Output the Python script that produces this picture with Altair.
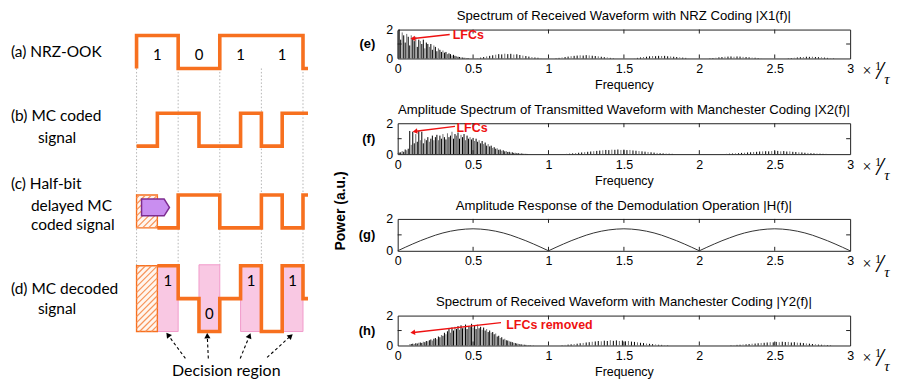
import math
import altair as alt
import numpy as np
import pandas as pd

# ====================== DATA ======================
# ---- left schematic ----
BITS = [1, 0, 1, 1]
NRZ_BIT_TEXT = ["1", "0", "1", "1"]
ROW_LABELS = ["(a) NRZ-OOK", "(b) MC coded", "signal", "(c) Half-bit", "delayed MC",
              "coded signal", "(d) MC decoded", "signal"]
DECISION_TEXT = "Decision region"
POWER_TEXT = "Power (a.u.)"

# ---- spectra ----
X_TICKS = [0, 0.5, 1, 1.5, 2, 2.5, 3]
Y_TICKS = [0, 1, 2]
TITLES = ["Spectrum of Received Waveform with NRZ Coding |X1(f)|",
          "Amplitude Spectrum of Transmitted Waveform with Manchester Coding |X2(f)|",
          "Amplitude Response of the Demodulation Operation |H(f)|",
          "Spectrum of Received Waveform with Manchester Coding |Y2(f)|"]
TAGS = ["(e)", "(f)", "(g)", "(h)"]

# |X1(f)| main lobe, f = 0.00, 0.01, ...
E_MAIN = [1.9, 2.0, 1.3, 1.8, 1.6, 1.1, 1.7, 1.5, 0.9, 1.6, 1.4, 1.2, 1.5, 0.8, 1.3, 1.2,
          1.0, 1.3, 0.7, 1.1, 1.0, 0.8, 1.0, 0.6, 0.9, 0.8, 0.5, 0.7, 0.6, 0.45, 0.55, 0.4,
          0.45, 0.3, 0.35, 0.3, 0.2, 0.25, 0.18, 0.15, 0.12, 0.1, 0.08, 0.06, 0.05, 0.04, 0.03, 0.02]
# side lobes, step 0.02 from the given start
E_LOBE2 = (0.53, [0.03, 0.06, 0.1, 0.14, 0.18, 0.22, 0.26, 0.3, 0.28, 0.33, 0.3, 0.32, 0.27, 0.29,
                  0.24, 0.2, 0.17, 0.13, 0.1, 0.07, 0.05, 0.03])
E_LOBE3 = (1.05, [0.02, 0.04, 0.07, 0.1, 0.13, 0.16, 0.18, 0.2, 0.22, 0.2, 0.23, 0.21, 0.19, 0.17,
                  0.15, 0.12, 0.09, 0.07, 0.04, 0.02])
E_LOBE4 = (1.57, [0.02, 0.04, 0.07, 0.1, 0.12, 0.15, 0.17, 0.16, 0.18, 0.17, 0.18, 0.15, 0.14, 0.12,
                  0.1, 0.08, 0.06, 0.04, 0.02])
E_LOBE5 = (2.07, [0.02, 0.03, 0.05, 0.08, 0.1, 0.12, 0.13, 0.14, 0.12, 0.14, 0.13, 0.11, 0.1, 0.08,
                  0.06, 0.05, 0.03, 0.02])
E_LOBE6 = (2.59, [0.02, 0.03, 0.05, 0.07, 0.09, 0.1, 0.12, 0.11, 0.12, 0.1, 0.09, 0.08, 0.06, 0.04,
                  0.03, 0.02])

# |X2(f)| main lobe, f = 0.00, 0.01, ...
F_MAIN = [0.05, 0.1, 0.12, 0.2, 0.15, 0.3, 0.25, 0.35,
          1.5, 0.6, 1.45, 0.7, 1.3, 0.8, 1.5, 0.9, 1.45, 0.7, 1.0, 0.9, 1.1, 0.8, 1.0, 1.2,
          0.9, 1.1, 1.25, 0.9, 1.2, 1.0, 1.3, 1.1, 0.95, 1.35, 1.1, 1.2, 1.45, 1.0, 1.3, 1.2,
          1.4, 1.0, 1.25, 1.1, 1.3, 0.9, 1.2, 1.0, 1.1, 0.95, 1.05, 0.85, 1.0, 0.8, 0.9, 0.7,
          0.85, 0.65, 0.75, 0.55, 0.65, 0.5, 0.55, 0.4, 0.45, 0.35, 0.38, 0.28, 0.3, 0.22, 0.25,
          0.18, 0.2, 0.14, 0.15, 0.1, 0.12, 0.08, 0.09, 0.06, 0.06, 0.04, 0.04, 0.03, 0.02, 0.02, 0.01]
F_LOBE2 = (1.12, [0.02, 0.03, 0.05, 0.07, 0.09, 0.11, 0.13, 0.15, 0.17, 0.19, 0.21, 0.23, 0.25, 0.27,
                  0.26, 0.29, 0.28, 0.3, 0.27, 0.29, 0.26, 0.27, 0.24, 0.22, 0.2, 0.18, 0.16, 0.14,
                  0.12, 0.1, 0.08, 0.06, 0.05, 0.04, 0.03, 0.02])
F_LOBE3 = (2.18, [0.02, 0.03, 0.04, 0.05, 0.06, 0.08, 0.09, 0.11, 0.12, 0.14, 0.15, 0.17, 0.18, 0.19,
                  0.18, 0.2, 0.19, 0.21, 0.18, 0.2, 0.17, 0.18, 0.15, 0.14, 0.12, 0.11, 0.09, 0.08,
                  0.06, 0.05, 0.04, 0.03, 0.02, 0.02])

# |H(f)|, f = 0.00, 0.05, ... 3.00
H_CURVE = [0, 0.22, 0.43, 0.63, 0.81, 0.98, 1.12, 1.23, 1.31, 1.36, 1.38, 1.36, 1.31, 1.23, 1.12,
           0.98, 0.81, 0.63, 0.43, 0.22, 0, 0.22, 0.43, 0.63, 0.81, 0.98, 1.12, 1.23, 1.31, 1.36,
           1.38, 1.36, 1.31, 1.23, 1.12, 0.98, 0.81, 0.63, 0.43, 0.22, 0, 0.22, 0.43, 0.63, 0.81,
           0.98, 1.12, 1.23, 1.31, 1.36, 1.38, 1.36, 1.31, 1.23, 1.12, 0.98, 0.81, 0.63, 0.43,
           0.22, 0]

# |Y2(f)| main lobe, f = 0.08, 0.09, ...
Y_MAIN = [0.08, 0.1, 0.12, 0.1, 0.15, 0.13, 0.18, 0.2, 0.17, 0.25, 0.22, 0.3, 0.28, 0.35, 0.4,
          0.33, 0.45, 0.5, 0.42, 0.6, 0.55, 0.7, 0.65, 0.85, 0.75, 0.95, 1.1, 0.85, 1.2, 1.0,
          1.25, 1.1, 1.3, 1.05, 1.35, 1.15, 1.2, 1.4, 1.1, 1.3, 1.25, 1.45, 1.2, 1.35, 1.1, 1.4,
          1.15, 1.25, 1.05, 1.2, 1.0, 1.1, 0.9, 1.0, 0.85, 0.9, 0.75, 0.8, 0.6, 0.65, 0.5, 0.55,
          0.4, 0.45, 0.35, 0.33, 0.28, 0.25, 0.22, 0.18, 0.16, 0.13, 0.11, 0.09, 0.07, 0.06, 0.05,
          0.04, 0.03, 0.02, 0.02, 0.01, 0.01]
Y_LOBE2 = (1.09, [0.02, 0.04, 0.06, 0.08, 0.1, 0.12, 0.15, 0.17, 0.2, 0.22, 0.25, 0.27, 0.3, 0.28,
                  0.32, 0.3, 0.35, 0.31, 0.34, 0.3, 0.33, 0.28, 0.3, 0.26, 0.24, 0.21, 0.18, 0.16,
                  0.13, 0.11, 0.09, 0.07, 0.05, 0.04, 0.03, 0.02])
Y_LOBE3 = (2.21, [0.02, 0.03, 0.04, 0.05, 0.07, 0.08, 0.1, 0.12, 0.13, 0.15, 0.17, 0.18, 0.2, 0.22,
                  0.21, 0.24, 0.22, 0.25, 0.23, 0.24, 0.2, 0.22, 0.19, 0.18, 0.16, 0.14, 0.12, 0.1,
                  0.08, 0.06, 0.05, 0.04, 0.03, 0.02])

# ====================== STYLE / LAYOUT ======================
ORANGE = "#f7701f"
FONT = "Liberation Sans"
LFONT = "Lato"
RED = "#ee1111"

LEFT_W, LEFT_H = 338, 351
BOTTOM_PAGE = 379.0
BIT_PX, LEVEL_PX, T0_PAGE = 41.75, 33.0, 136.0


def xu(px):
    return (px - T0_PAGE) / BIT_PX


def yu(py):
    return (BOTTOM_PAGE - py) / LEVEL_PX


LANE = {"a": yu(67), "b": yu(145), "c": yu(227), "d": yu(298)}
TAIL = 0.12

xs_left = alt.Scale(domain=[xu(8), xu(8 + LEFT_W)], nice=False, zero=False)
ys_left = alt.Scale(domain=[0, LEFT_H / LEVEL_PX], nice=False, zero=False)


def LX(f="x"):
    return alt.X(f"{f}:Q", scale=xs_left, axis=None)


def LY(f="y"):
    return alt.Y(f"{f}:Q", scale=ys_left, axis=None)


def tri_angle(dx_px, dy_px):
    return (math.degrees(math.atan2(dx_px, -dy_px)) + 360) % 360


# ---- waveforms derived from the bits ----
mc = []
for b in BITS:
    mc += [1 - b, b]
nb = len(BITS)
segs = {
    "a": [(0, 0, 0)] + [(i, i + 1, b) for i, b in enumerate(BITS)] + [(nb, nb + TAIL, 0)],
    "b": [(k * 0.5, (k + 1) * 0.5, v) for k, v in enumerate(mc)] + [(nb, nb + TAIL, mc[-1])],
    "c": [((k + 1) * 0.5, (k + 2) * 0.5, mc[k]) for k in range(len(mc) - 1)] + [(nb, nb + TAIL, mc[-1])],
    "d": [(j * 0.5, (j + 1) * 0.5, mc[j] - mc[j - 1]) for j in range(1, len(mc))] + [(nb, nb + TAIL, 0)],
}
rows = []
for lane, sl in segs.items():
    i = 0
    for x0, x1, lv in sl:
        for xx in (x0, x1):
            rows.append({"lane": lane, "i": i, "x": xx, "y": LANE[lane] + lv})
            i += 1
wave_df = pd.DataFrame(rows)

wave = alt.Chart(wave_df).mark_line(color=ORANGE, strokeWidth=3.6, strokeJoin="miter").encode(
    x=LX(), y=LY(), detail="lane:N", order="i:Q")

guides_df = pd.DataFrame({"x": list(range(nb + 1)), "y": LANE["a"], "y2": LANE["d"] + 1})
guides = alt.Chart(guides_df).mark_rule(color="#b5b5b5", strokeDash=[1.5, 2], strokeWidth=1).encode(
    x=LX(), y=LY(), y2="y2:Q")

# decision regions: second half of each bit in the decoded row
dec_vals = [mc[j] - mc[j - 1] for j in range(1, len(mc), 2)]
dec_df = pd.DataFrame({"x": [i + 0.5 for i in range(nb)], "x2": [i + 1.0 for i in range(nb)],
                       "y": LANE["d"] - 1, "y2": LANE["d"] + 1.03,
                       "lab": ["1" if v > 0 else "0" for v in dec_vals],
                       "ly": [LANE["d"] + (0.55 if v > 0 else -0.48) for v in dec_vals],
                       "lx": [i + 0.75 for i in range(nb)]})
pink = alt.Chart(dec_df).mark_rect(fill="#f9c8e3", stroke="#f19ccb", strokeWidth=1).encode(
    x=LX(), x2="x2:Q", y=LY(), y2="y2:Q")
dec_lab = alt.Chart(dec_df).mark_text(font=LFONT, fontSize=15, color="black").encode(
    x=LX("lx"), y=LY("ly"), text="lab:N")

# hatched half-bit boxes
boxes = pd.DataFrame({"x": [0, 0], "x2": [0.5, 0.5],
                      "y": [LANE["c"], LANE["d"] - 1], "y2": [LANE["c"] + 1, LANE["d"] + 1]})
box_m = alt.Chart(boxes).mark_rect(fill="#fff6ef", stroke=ORANGE, strokeWidth=1.4).encode(
    x=LX(), x2="x2:Q", y=LY(), y2="y2:Q")
hrows = []
for _, r in boxes.iterrows():
    x0p, x1p = r.x * BIT_PX, r.x2 * BIT_PX
    y0p, y1p = -r.y2 * LEVEL_PX, -r.y * LEVEL_PX  # screen-like (down positive)
    c = x0p + y0p + 3
    while c < x1p + y1p:
        xa, xb = max(x0p, c - y1p), min(x1p, c - y0p)
        if xb > xa:
            hrows.append({"x": xa / BIT_PX, "y": -(c - xa) / LEVEL_PX,
                          "x2": xb / BIT_PX, "y2": -(c - xb) / LEVEL_PX})
        c += 6
hatch = alt.Chart(pd.DataFrame(hrows)).mark_rule(color="#f7945a", strokeWidth=1.2).encode(
    x=LX(), y=LY(), x2="x2:Q", y2="y2:Q")

arrow_shape = "M-1,-0.6L0.62,-0.6L1,0L0.62,0.6L-1,0.6Z"
purple = alt.Chart(pd.DataFrame({"x": [xu(155)], "y": [yu(206.5)]})).mark_point(
    shape=arrow_shape, size=784, filled=True, fill="#c98ef0", stroke="#7d2c91",
    strokeWidth=1.5, opacity=1).encode(x=LX(), y=LY())

lab_pos = [(10, 51), (10, 115), (37, 137), (10, 183), (30, 205), (30, 224), (10, 288), (37, 308)]
labels_df = pd.DataFrame({"t": ROW_LABELS, "x": [xu(p[0]) for p in lab_pos],
                          "y": [yu(p[1]) for p in lab_pos]})
row_labels = alt.Chart(labels_df).mark_text(font=LFONT, fontSize=15.5, align="left",
                                            baseline="middle", color="black").encode(
    x=LX(), y=LY(), text="t:N")

bits_df = pd.DataFrame({"t": NRZ_BIT_TEXT, "x": [i + 0.5 for i in range(nb)], "y": LANE["a"] + 0.42})
bit_labels = alt.Chart(bits_df).mark_text(font=LFONT, fontSize=15, color="black").encode(
    x=LX(), y=LY(), text="t:N")

dtext = alt.Chart(pd.DataFrame({"t": [DECISION_TEXT], "x": [xu(226)], "y": [yu(371)]})).mark_text(
    font=LFONT, fontSize=16, color="black").encode(x=LX(), y=LY(), text="t:N")

arr_tail = [(185, 358), (208, 358), (240, 358), (267, 357)]
arr_head = [(168, 335), (207, 336), (249, 336), (290, 336)]
darr = pd.DataFrame({"x": [xu(a[0]) for a in arr_tail], "y": [yu(a[1]) for a in arr_tail],
                     "x2": [xu(a[0]) for a in arr_head], "y2": [yu(a[1]) for a in arr_head],
                     "ang": [tri_angle(h[0] - t[0], h[1] - t[1]) for t, h in zip(arr_tail, arr_head)]})
darr_lines = alt.Chart(darr).mark_rule(color="black", strokeWidth=1.1, strokeDash=[3, 2.5]).encode(
    x=LX(), y=LY(), x2="x2:Q", y2="y2:Q")
darr_heads = alt.Chart(darr).mark_point(shape="triangle", filled=True, color="black", size=38,
                                        opacity=1).encode(
    x=LX("x2"), y=LY("y2"), angle=alt.Angle("ang:Q", scale=None))

power = alt.Chart(pd.DataFrame({"t": [POWER_TEXT], "x": [xu(341)], "y": [yu(210)]})).mark_text(
    font=FONT, fontSize=14, fontWeight="bold", angle=270, color="black").encode(
    x=LX(), y=LY(), text="t:N")

left = alt.layer(guides, pink, box_m, hatch, wave, purple, row_labels, bit_labels, dec_lab,
                 dtext, darr_lines, darr_heads, power).properties(
    width=LEFT_W, height=LEFT_H, view=alt.ViewBackground(stroke="transparent"))

# ====================== RIGHT PANELS ======================
RIGHT_W = 454


def stems(main_start, main, lobes):
    f, a = [], []
    f += [round(main_start + 0.01 * k, 4) for k in range(len(main))]
    a += main
    for st, vals in lobes:
        f += [round(st + 0.02 * k, 4) for k in range(len(vals))]
        a += vals
    df = pd.DataFrame({"f": f, "a": a})
    df["a2"] = 0.0
    df["c"] = ["#000000" if k % 3 else "#6e6e6e" for k in range(len(df))]
    return df


def panel(tag, title, h, stem_df=None, curve=None, note=None, show_freq=True):
    xax = alt.Axis(values=X_TICKS, format="~g", ticks=False, domain=False, grid=False,
                   labelFlush=False, labelOverlap=False, labelFontSize=12.5, labelPadding=4,
                   labelFont=FONT, labelColor="black", title="Frequency", titleFont=FONT,
                   titleFontSize=12.5, titleFontWeight="normal", titlePadding=4,
                   titleColor="black", titleOpacity=1 if show_freq else 0)
    yax = alt.Axis(values=Y_TICKS, format="d", ticks=False, domain=False, grid=False,
                   labelOverlap=False, labelFontSize=12.5, labelPadding=5, labelFont=FONT,
                   labelColor="black", title=tag, titleAngle=0, titleFont=FONT, titleFontSize=13,
                   titleFontWeight="bold", titleAlign="right", titleBaseline="middle",
                   titleX=-23, titleY=h / 2, titleColor="black")
    X = alt.X("f:Q", scale=alt.Scale(domain=[0, 3], nice=False, zero=False), axis=xax)
    Y = alt.Y("a:Q", scale=alt.Scale(domain=[0, 2], nice=False, zero=False), axis=yax)
    pxu = RIGHT_W / 3.0
    pyu = h / 2.0
    layers = []
    if stem_df is not None:
        layers.append(alt.Chart(stem_df).mark_rule(strokeWidth=1.0).encode(
            x=X, y=Y, y2="a2:Q", color=alt.Color("c:N", scale=None)))
    if curve is not None:
        cdf = pd.DataFrame({"f": [round(0.05 * k, 3) for k in range(len(curve))], "a": curve})
        layers.append(alt.Chart(cdf).mark_line(color="#333333", strokeWidth=1).encode(x=X, y=Y))
    # inward ticks (box style)
    tl = 4.0
    trows = []
    for t in X_TICKS[1:-1]:
        trows.append({"f": t, "a": 0, "f2": t, "a2": tl / pyu})
        trows.append({"f": t, "a": 2, "f2": t, "a2": 2 - tl / pyu})
    trows.append({"f": 0, "a": 1, "f2": tl / pxu, "a2": 1})
    trows.append({"f": 3, "a": 1, "f2": 3 - tl / pxu, "a2": 1})
    layers.append(alt.Chart(pd.DataFrame(trows)).mark_rule(color="#222222", strokeWidth=1).encode(
        x=X, y=Y, x2="f2:Q", y2="a2:Q"))
    if note is not None:
        txt, tx, ty, f0, a0, f1, a1 = note
        ndf = pd.DataFrame({"f": [f0], "a": [a0], "f2": [f1], "a2": [a1]})
        layers.append(alt.Chart(ndf).mark_rule(color=RED, strokeWidth=1.4).encode(
            x=X, y=Y, x2="f2:Q", y2="a2:Q"))
        ang = tri_angle((f1 - f0) * pxu, -(a1 - a0) * pyu)
        hdf = pd.DataFrame({"f": [f1], "a": [a1], "ang": [ang]})
        layers.append(alt.Chart(hdf).mark_point(shape="triangle", filled=True, color=RED, size=30,
                                                opacity=1).encode(
            x=X, y=Y, angle=alt.Angle("ang:Q", scale=None)))
        tdf = pd.DataFrame({"f": [tx], "a": [ty], "t": [txt]})
        layers.append(alt.Chart(tdf).mark_text(font=FONT, fontSize=12.5, fontWeight="bold",
                                               color=RED, align="left", baseline="middle").encode(
            x=X, y=Y, text="t:N"))
    # "x 1/tau" unit next to the last tick label
    parts = [("\u00d7", 17, 13, 16, "normal"), ("1", 28, 8, 12.5, "normal"),
             ("/", 30, 13, 26, "italic"), ("\u03c4", 37, 21, 15, "italic")]
    for t, dx, dy, sz, st in parts:
        pdf = pd.DataFrame({"f": [3 + dx / pxu], "a": [-dy / pyu], "t": [t]})
        layers.append(alt.Chart(pdf).mark_text(font="Liberation Serif", fontSize=sz, fontStyle=st,
                                               color="black", baseline="middle").encode(
            x=X, y=Y, text="t:N"))
    return alt.layer(*layers).properties(
        width=RIGHT_W, height=h,
        title=alt.TitleParams(title, font=FONT, fontSize=13.2, fontWeight="normal", frame="group",
                              offset=0, color="black", anchor="middle"))


pe = panel(TAGS[0], TITLES[0], 29,
           stem_df=stems(0.0, E_MAIN, [E_LOBE2, E_LOBE3, E_LOBE4, E_LOBE5, E_LOBE6]),
           note=("LFCs", 0.365, 1.6, 0.345, 1.66, 0.105, 1.38))
pf = panel(TAGS[1], TITLES[1], 31, stem_df=stems(0.0, F_MAIN, [F_LOBE2, F_LOBE3]),
           note=("LFCs", 0.39, 1.68, 0.38, 1.8, 0.12, 1.48))
pg = panel(TAGS[2], TITLES[2], 32, curve=H_CURVE, show_freq=False)
ph = panel(TAGS[3], TITLES[3], 30, stem_df=stems(0.08, Y_MAIN, [Y_LOBE2, Y_LOBE3]),
           note=("LFCs removed", 0.72, 1.4, 0.685, 1.53, 0.105, 0.87))

right = alt.vconcat(pe, pf, pg, ph, spacing=10)

chart = alt.hconcat(left, right, spacing=8).properties(padding=0).configure_view(
    stroke="#222222", strokeWidth=1)

chart.save("out.html", embed_options={"renderer": "svg", "actions": False})
